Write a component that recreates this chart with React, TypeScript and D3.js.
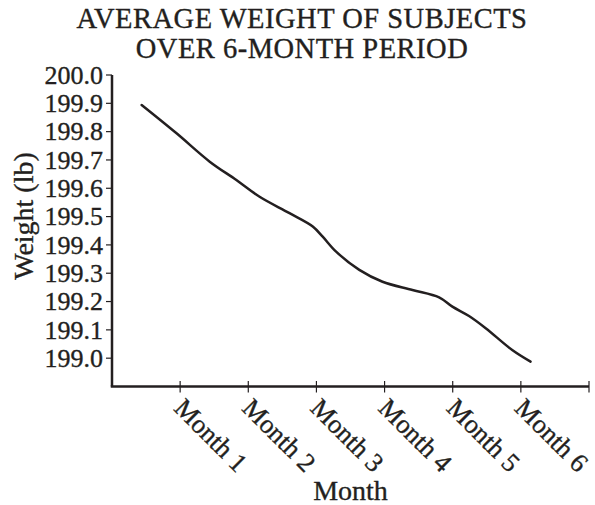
import React from "react";
import * as d3 from "d3";

const titleLines = ["AVERAGE WEIGHT OF SUBJECTS", "OVER 6-MONTH PERIOD"];
const monthTicks = [1, 2, 3, 4, 5, 6];
const monthLabels = ["Month 1", "Month 2", "Month 3", "Month 4", "Month 5", "Month 6"];
const weightTicks = [199.0, 199.1, 199.2, 199.3, 199.4, 199.5, 199.6, 199.7, 199.8, 199.9, 200.0];
const sampleMonths = [0.435, 0.947, 1.434, 1.825, 2.166, 2.605, 2.946, 3.092, 3.289, 3.629, 3.97, 4.409, 4.8, 4.995, 5.239, 5.484, 5.873, 6.142];
const sampleWeights = [199.894, 199.794, 199.694, 199.629, 199.57, 199.512, 199.465, 199.429, 199.376, 199.312, 199.27, 199.241, 199.215, 199.182, 199.149, 199.106, 199.029, 198.988];

const W = 595;
const H = 505;
const INK = "#231f20";
const FONT = "'Liberation Serif', 'Times New Roman', serif";
const TXT = { fill: INK, stroke: INK, strokeWidth: 0.35 };

export default function App() {
  const x = d3.scaleLinear().domain([0, 7]).range([112, 589]);
  const y = d3.scaleLinear().domain([198.9, 200.0]).range([386.5, 75]);
  const pts: [number, number][] = sampleMonths.map((m, i) => [m, sampleWeights[i]]);
  const line = d3
    .line<[number, number]>()
    .x((d) => x(d[0]))
    .y((d) => y(d[1]))
    .curve(d3.curveCatmullRom.alpha(0.5));
  const [x0, x1] = x.range();
  const [yb, yt] = y.range();
  return (
    <svg
      width={W}
      height={H}
      style={{ position: "absolute", left: 0, top: 0, background: "#fff" }}
      fontFamily={FONT}
    >
      <rect x={0} y={0} width={W} height={H} fill="#fff" />
      {titleLines.map((t, i) => (
        <text
          key={t}
          x={302}
          y={28 + i * 30}
          textAnchor="middle"
          fontSize={28.5}
          letterSpacing={0.5}
          {...TXT}
        >
          {t}
        </text>
      ))}
      {/* y axis */}
      <line x1={x0} x2={x0} y1={yt} y2={yb} stroke={INK} strokeWidth={2.5} />
      {weightTicks.map((v) => (
        <g key={v}>
          <line x1={x0 - 6} x2={x0} y1={y(v)} y2={y(v)} stroke={INK} strokeWidth={1.2} />
          <text x={103} y={y(v)} dy="0.34em" textAnchor="end" fontSize={26} {...TXT}>
            {d3.format(".1f")(v)}
          </text>
        </g>
      ))}
      <text
        transform={`translate(33,216) rotate(-90)`}
        textAnchor="middle"
        fontSize={28}
        {...TXT}
      >
        Weight (lb)
      </text>
      {/* x axis */}
      <line x1={x0 - 1.25} x2={x1} y1={yb} y2={yb} stroke={INK} strokeWidth={2.5} />
      {[...monthTicks, 7].map((m) => (
        <line key={m} x1={x(m)} x2={x(m)} y1={yb - 5.5} y2={yb + 6} stroke={INK} strokeWidth={1.2} />
      ))}
      {monthTicks.map((m, i) => (
        <text
          key={m}
          transform={`translate(${x(m) - 7.5},${yb + 23}) rotate(45)`}
          textAnchor="start"
          fontSize={26.5}
          {...TXT}
        >
          {monthLabels[i]}
        </text>
      ))}
      <text x={(x0 + x1) / 2} y={500} textAnchor="middle" fontSize={28} {...TXT}>
        Month
      </text>
      <path d={line(pts) ?? ""} fill="none" stroke={INK} strokeWidth={2.5} strokeLinecap="round" />
    </svg>
  );
}
